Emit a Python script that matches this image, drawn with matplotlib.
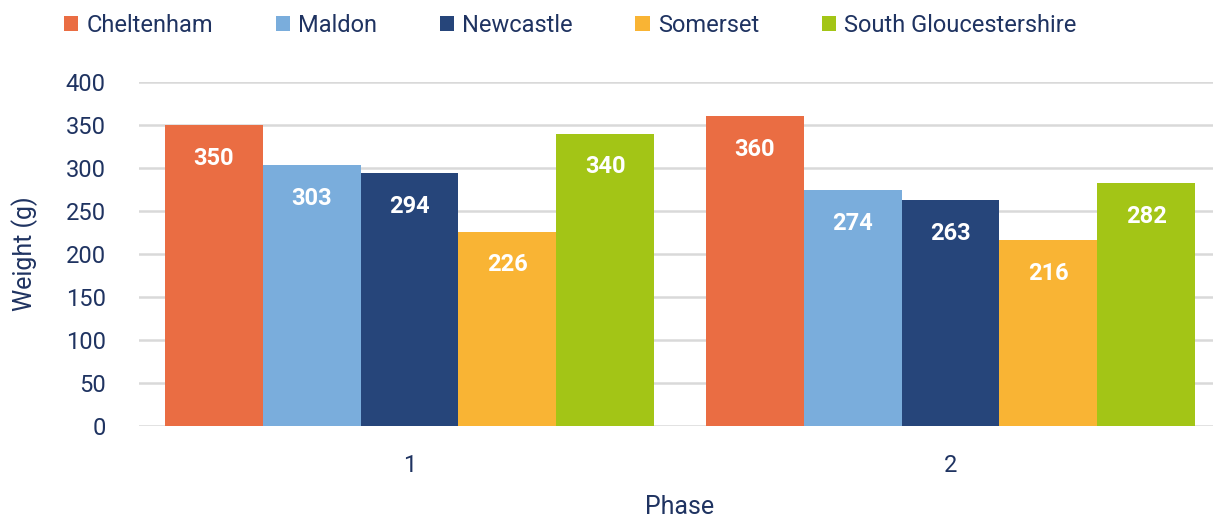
import numpy as np
import matplotlib
matplotlib.use('Agg')
import matplotlib.pyplot as plt

# data
phases = ['1', '2']
sites = ['Cheltenham', 'Maldon', 'Newcastle', 'Somerset', 'South Gloucestershire']
cheltenham = [350, 360]
maldon = [303, 274]
newcastle = [294, 263]
somerset = [226, 216]
south_glos = [340, 282]
colors = ['#EA6D43', '#7AADDC', '#26457A', '#F9B434', '#A3C516']

NAVY = '#1F3361'
plt.rcParams['font.family'] = ['Roboto', 'DejaVu Sans']

fig = plt.figure(figsize=(12.13, 5.17), dpi=100)
ax = fig.add_axes([139 / 1213, 91 / 517, 1082 / 1213, 344 / 517])

x = np.arange(len(phases))
w = 0.181
series = [cheltenham, maldon, newcastle, somerset, south_glos]
for i, (name, vals, c) in enumerate(zip(sites, series, colors)):
    pos = x + (i - 2) * w
    ax.bar(pos, vals, w, color=c, label=name, zorder=3)
    for px, v in zip(pos, vals):
        ax.annotate(str(v), (px, v), xytext=(0, -24), textcoords='offset points',
                    ha='center', va='center', color='white', fontsize=17,
                    fontweight='bold', zorder=4)

ax.set_xlim(-0.5, 1.5)
ax.set_ylim(0, 400)
ax.set_yticks(range(0, 401, 50))
ax.set_xticks(x)
ax.set_xticklabels(phases)
ax.grid(axis='y', color='#D9D9D9', linewidth=1.8, zorder=0)
for s in ax.spines.values():
    s.set_visible(False)
ax.tick_params(length=0, labelsize=17, labelcolor=NAVY)
ax.tick_params(axis='y', pad=24)
ax.tick_params(axis='x', pad=20)
ax.set_ylabel('Weight (g)', fontsize=18, color=NAVY, labelpad=20)
ax.set_xlabel('Phase', fontsize=18, color=NAVY, labelpad=13)

fig.legend(loc='upper left', bbox_to_anchor=(0.049, 0.982), ncol=5, frameon=False,
           borderaxespad=0, borderpad=0.2,
           fontsize=17, labelcolor=NAVY, handlelength=0.6, handleheight=0.6,
           handletextpad=0.35, columnspacing=2.65)

fig.savefig('out.png', dpi=100)
